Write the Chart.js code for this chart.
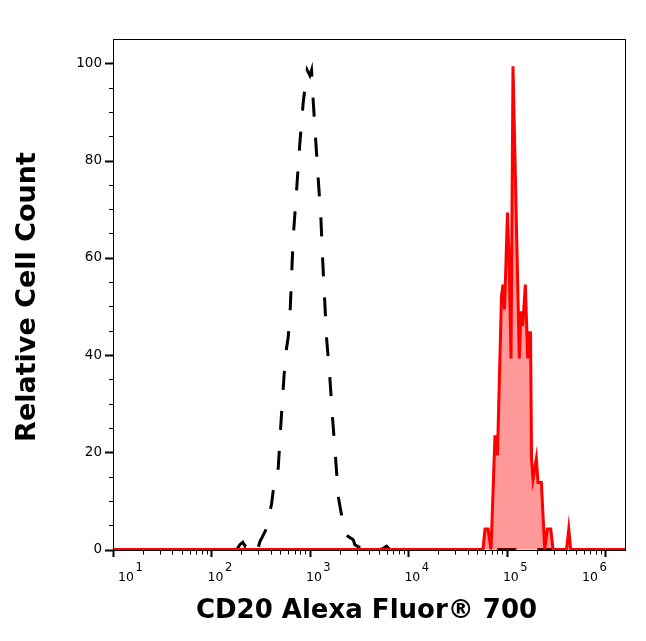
<!DOCTYPE html>
<html><head><meta charset="utf-8">
<script src="https://cdn.jsdelivr.net/npm/chart.js@4/dist/chart.umd.min.js"></script>
<style>html,body{margin:0;padding:0;background:#fff;overflow:hidden}</style>
</head><body>
<canvas id="c" width="646" height="641"></canvas>
<script>
// ---- data ----
const xTitle = 'CD20 Alexa Fluor® 700';
const yTitle = 'Relative Cell Count';
const xMin = 10, xMax = 1620000;
const yMin = -0.3, yMax = 105;
const yTickValues = [0, 20, 40, 60, 80, 100];
const xDecades = [1, 2, 3, 4, 5, 6];

// isotype control (black dashed)
const controlX = [10, 181, 194, 208, 218, 228, 245, 295, 310, 362, 407, 423, 472, 514, 547, 578, 600, 625, 650, 675, 731, 789, 853, 937, 998, 1038, 1078, 1140, 1211, 1291, 1343, 1407, 1475, 1593, 1697, 1820, 1954, 2175, 2316, 2750, 2860, 3450, 4900, 5340, 6000, 6480, 1620000];
const controlY = [0, 0, 1, 1.5, 0.8, 1.5, 0, 0, 1.6, 4.3, 9.3, 12, 15.5, 27.8, 36, 41.4, 43.5, 47.6, 55.9, 64, 73.8, 83.5, 91.8, 98.6, 97.5, 98.6, 92.4, 84.7, 76.5, 68.2, 60, 51.8, 43.5, 35.3, 27, 18.8, 10.5, 5.2, 3, 2, 1, 0, 0.5, 0, 0.7, 0, 0];

// CD20 stained (red filled)
const cd20X = [10, 57150, 59950, 64300, 69000, 75700, 80200, 88100, 91200, 94600, 101400, 105700, 110100, 115300, 133700, 139100, 144800, 153900, 162700, 168900, 173800, 177900, 184200, 199000, 207000, 223900, 242200, 257400, 278700, 294200, 403600, 424800, 444800, 1620000];
const cd20Y = [0, 0, 4.2, 4.2, 0, 23.5, 19.4, 52, 54.5, 49.4, 69.3, 58, 39.3, 99.4, 39.3, 49, 46, 54.5, 39.3, 44.6, 44.6, 18.7, 14.5, 18.7, 13.8, 13.8, 0, 4.2, 4.2, 0, 0, 4.2, 0, 0];

const zip = (xs, ys) => xs.map((x, i) => ({x: x, y: ys[i]}));

const FONT = '"DejaVu Sans", Verdana, sans-serif';

const axesPlugin = {
  id: 'axesPlugin',
  afterDraw(chart) {
    const ctx = chart.ctx;
    const a = chart.chartArea;
    const xs = chart.scales.x, ys = chart.scales.y;
    ctx.save();
    ctx.strokeStyle = '#000';
    ctx.fillStyle = '#000';
    // frame
    ctx.lineWidth = 1;
    ctx.strokeRect(a.left + 0.5, a.top + 0.5, a.right - a.left - 1, a.bottom - a.top - 1);

    // y ticks
    for (let v = 0; v <= 100; v += 5) {
      const py = Math.round(ys.getPixelForValue(v)) + 0.5;
      const major = yTickValues.includes(v);
      ctx.lineWidth = major ? 2 : 1;
      ctx.beginPath();
      ctx.moveTo(a.left - (major ? 8 : 4), py);
      ctx.lineTo(a.left, py);
      ctx.stroke();
    }
    ctx.font = '13.5px ' + FONT;
    ctx.textAlign = 'right';
    ctx.textBaseline = 'middle';
    yTickValues.forEach(v => {
      ctx.fillText(String(v), a.left - 11, ys.getPixelForValue(v));
    });

    // x ticks
    xDecades.forEach(d => {
      for (let k = 1; k <= 9; k++) {
        const val = k * Math.pow(10, d);
        if (val < xMin || val > xMax) continue;
        const px = Math.round(xs.getPixelForValue(val)) + 0.5;
        const major = k === 1;
        ctx.lineWidth = major ? 2 : 1;
        ctx.beginPath();
        ctx.moveTo(px, a.bottom);
        ctx.lineTo(px, a.bottom + (major ? 6 : 3.5));
        ctx.stroke();
      }
    });
    ctx.textAlign = 'left';
    ctx.textBaseline = 'alphabetic';
    xDecades.forEach(d => {
      const tx = xs.getPixelForValue(Math.pow(10, d));
      let left = tx - 4;
      left = Math.max(left, a.left + 5);
      left = Math.min(left, a.right - 44);
      ctx.font = '12.5px ' + FONT;
      ctx.fillText('10', left, a.bottom + 29.5);
      const w = ctx.measureText('10').width;
      ctx.font = '11.5px ' + FONT;
      ctx.fillText(String(d), left + w + 1.5, a.bottom + 19.5);
    });

    // titles
    ctx.font = 'bold 26px ' + FONT;
    ctx.textAlign = 'center';
    ctx.fillText(xTitle, (a.left + a.right) / 2 - 3, a.bottom + 67);
    ctx.save();
    ctx.translate(35, (a.top + a.bottom) / 2 + 2);
    ctx.rotate(-Math.PI / 2);
    ctx.font = 'bold 27px ' + FONT;
    ctx.fillText(yTitle, 0, 0);
    ctx.restore();
    ctx.restore();
  }
};

new Chart(document.getElementById('c'), {
  type: 'line',
  data: {
    datasets: [
      {
        label: 'CD20',
        data: zip(cd20X, cd20Y),
        borderColor: '#ff0000',
        borderWidth: 3,
        backgroundColor: 'rgba(255,0,0,0.4)',
        fill: 'origin',
        pointRadius: 0,
        tension: 0
      },
      {
        label: 'Isotype control',
        data: zip(controlX, controlY),
        borderColor: '#000000',
        borderWidth: 3,
        borderDash: [19, 21],
        fill: false,
        pointRadius: 0,
        tension: 0
      }
    ]
  },
  options: {
    responsive: false,
    animation: false,
    layout: {padding: {left: 113, top: 39, right: 20, bottom: 90}},
    plugins: {legend: {display: false}, tooltip: {enabled: false}},
    scales: {
      x: {type: 'logarithmic', min: xMin, max: xMax, display: false},
      y: {type: 'linear', min: yMin, max: yMax, display: false}
    }
  },
  plugins: [axesPlugin]
});
</script>
</body></html>
